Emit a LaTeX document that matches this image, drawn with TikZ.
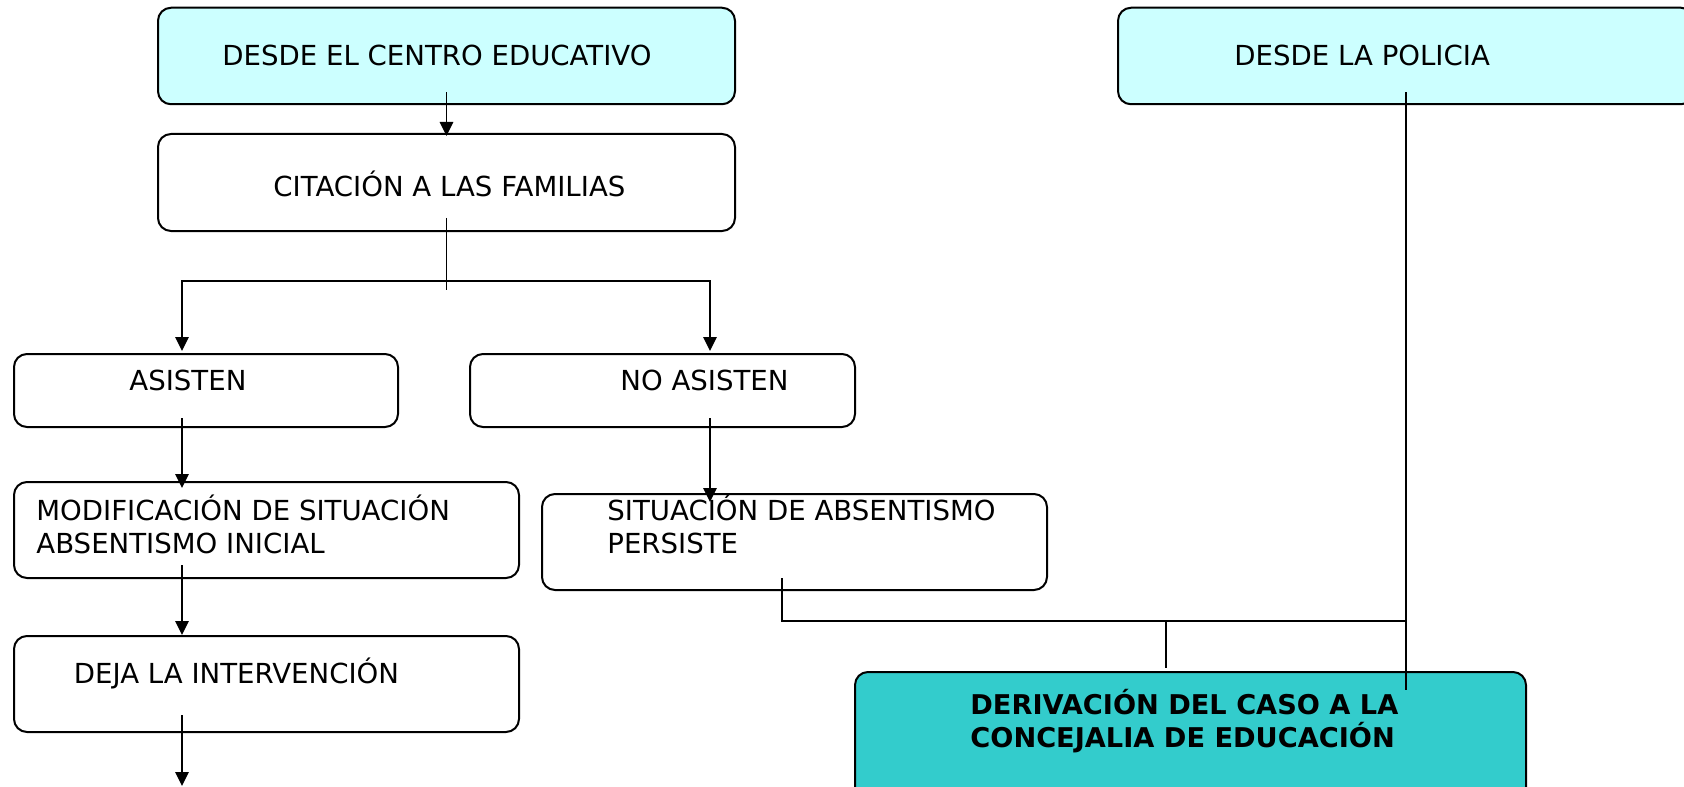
\documentclass[tikz,border=0pt]{standalone}
\usepackage{fontspec}
\setmainfont{DejaVu Sans}
\usetikzlibrary{arrows.meta}
\definecolor{paleCyan}{HTML}{CCFFFF}
\definecolor{derivTeal}{HTML}{33CCCC}

\begin{document}
\begin{tikzpicture}
  [x=0.5pt,y=-0.5pt,
   box/.style={draw,rounded corners=6.5pt,line width=1pt,inner sep=0pt},
   txt/.style={anchor=base west,inner sep=0pt,align=left,
     font=\fontsize{13.8}{16.5}\selectfont},
   >={Triangle[width=6.75pt,length=7pt]},
   conn/.style={line width=0.75pt}]
  \clip (0,0) rectangle (1684,786);
  \fill[white] (0,0) rectangle (1684,786);

  \node[box,fill=paleCyan,minimum width=288.5pt,minimum height=48.25pt] (a) at (446.5,56) {};
  \node[box,fill=paleCyan,minimum width=288pt,minimum height=48.25pt] (p) at (1406,56) {};
  \node[box,minimum width=288.5pt,minimum height=48.5pt] (c) at (446.5,182.5) {};
  \node[box,minimum width=192pt,minimum height=36.5pt] (as) at (206,390.5) {};
  \node[box,minimum width=192.5pt,minimum height=36.5pt] (na) at (662.5,390.5) {};
  \node[box,minimum width=252.5pt,minimum height=48pt] (mo) at (266.5,530) {};
  \node[box,minimum width=252.5pt,minimum height=48pt] (si) at (794.5,542) {};
  \node[box,minimum width=252.5pt,minimum height=48pt] (de) at (266.5,684) {};
  \node[box,fill=derivTeal,minimum width=335.5pt,minimum height=64pt] (dv) at (1190.5,736) {};

  % multi-line texts sit on the baseline of their last line
  \node[txt] (ta) at (222,66) {DESDE EL CENTRO EDUCATIVO};
  \node[txt] (tp) at (1234,66) {DESDE LA POLICIA};
  \node[txt] (tc) at (273,197) {CITACIÓN A LAS FAMILIAS};
  \node[txt] (tas) at (129,390) {ASISTEN};
  \node[txt] (tna) at (620,390) {NO ASISTEN};
  \node[txt] (tmo) at (36,553) {MODIFICACIÓN DE SITUACIÓN\\ABSENTISMO INICIAL};
  \node[txt] (tsi) at (607,553) {SITUACIÓN DE ABSENTISMO\\PERSISTE};
  \node[txt] (tde) at (73.5,683) {DEJA LA INTERVENCIÓN};
  \node[txt,font=\fontsize{13.6}{16.5}\selectfont\bfseries] (tdv) at (970,747) {DERIVACIÓN DEL CASO A LA\\CONCEJALIA DE EDUCACIÓN};

  \coordinate (fork) at (446.5,281);
  \coordinate (join) at (1166,621);
  \coordinate (out) at (182,786);

  \draw[conn,->] ([yshift=6.5pt]a.south) -- ([yshift=-1.5pt]c.north);
  \draw[conn] ([yshift=7pt]c.south) -- ([yshift=-4.5pt]fork);
  \draw[conn,->] (fork) -| ([xshift=-12pt,yshift=1pt]as.north);
  \draw[conn,->] (fork) -| ([xshift=23.75pt,yshift=1pt]na.north);
  \draw[conn,->] ([xshift=-12pt,yshift=5pt]as.south) -- ([xshift=-42.25pt,yshift=-3.5pt]mo.north);
  \draw[conn,->] ([xshift=23.75pt,yshift=5pt]na.south) -- ([xshift=-42.25pt,yshift=-4.5pt]si.north);
  \draw[conn,->] ([xshift=-42.25pt,yshift=7pt]mo.south) -- ([xshift=-42.25pt]de.north);
  \draw[conn,->] ([xshift=-42.25pt,yshift=9pt]de.south) -- (out);

  \draw[conn] ([xshift=-6.25pt,yshift=6.5pt]si.south) |- (join) -- (join -| p.south);
  \draw[conn] (join) -- ([xshift=-12.25pt,yshift=1.5pt]dv.north);
  \draw[conn] ([yshift=6.5pt]p.south) -- ([xshift=107.75pt,yshift=-9.5pt]dv.north);

\end{tikzpicture}
\end{document}
